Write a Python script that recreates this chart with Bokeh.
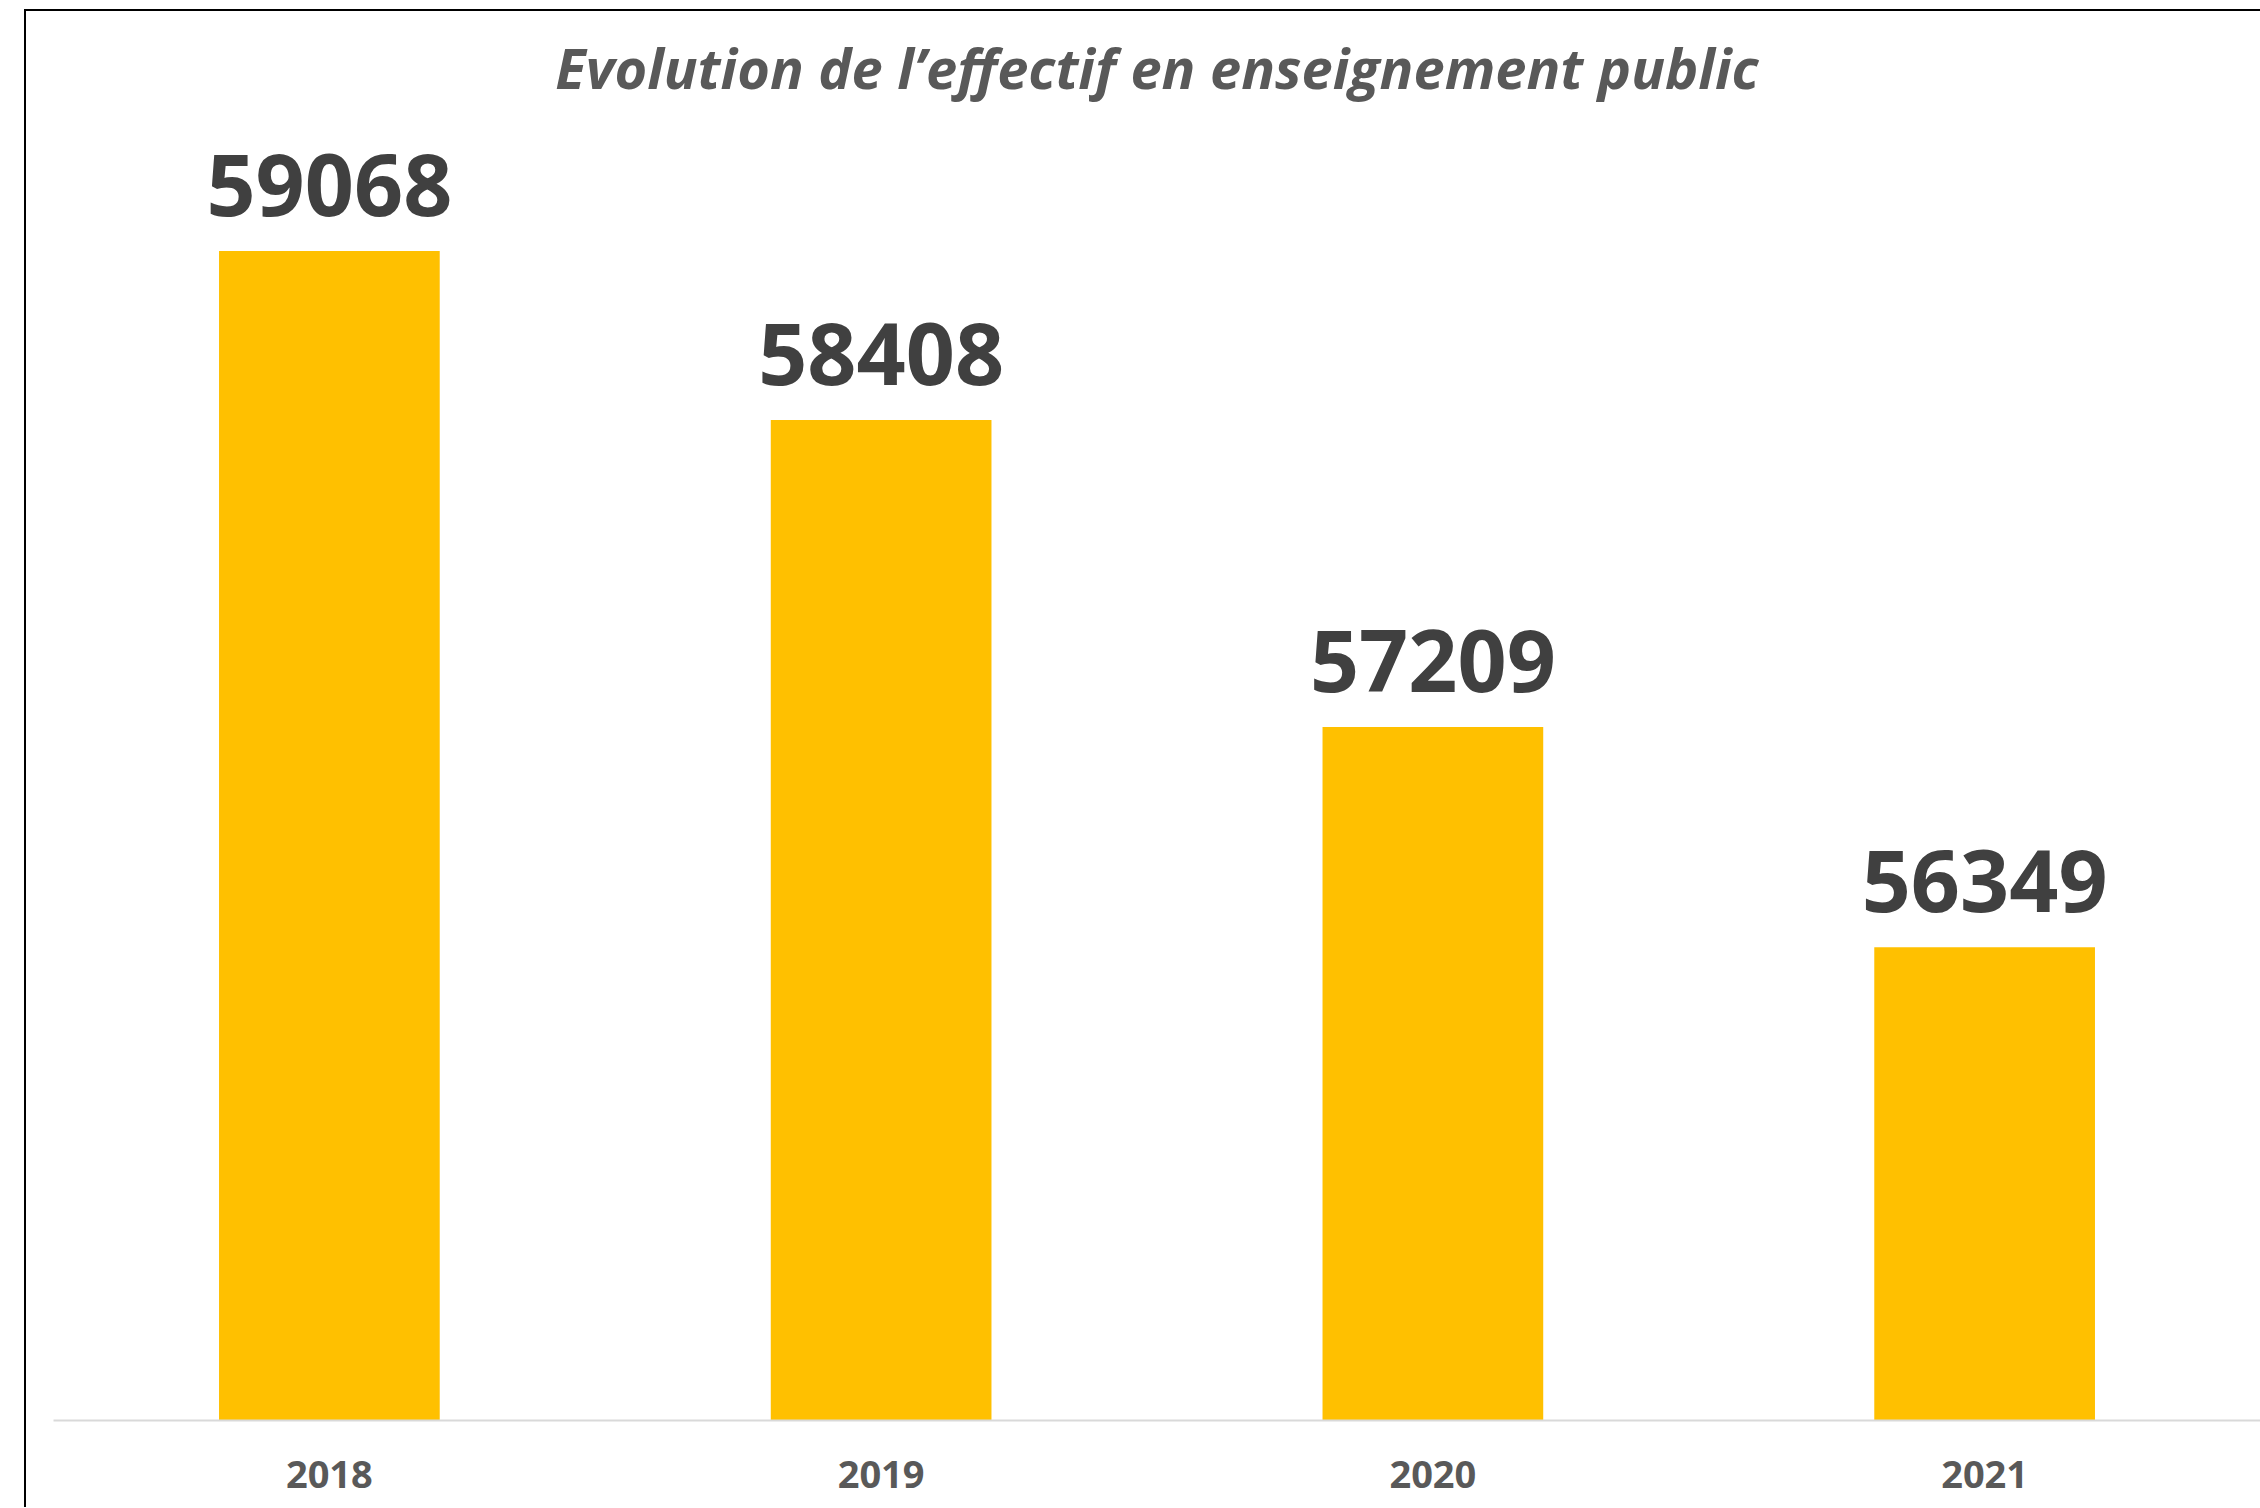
from bokeh.plotting import figure
from bokeh.models import ColumnDataSource, FactorRange, Range1d, LabelSet, Label
from bokeh.core.properties import value
from bokeh.embed import file_html
from bokeh.resources import INLINE

years = ["2018", "2019", "2020", "2021"]
effectif = [59068, 58408, 57209, 56349]
labels = [str(v) for v in effectif]
title_text = "Evolution de l\u2019effectif en enseignement public"
y_min, y_top = 54500, 60004

src = ColumnDataSource(dict(year=years, value=effectif, label=labels))

p = figure(
    x_range=FactorRange(*years, range_padding=0),
    y_range=Range1d(y_min, y_top),
    frame_width=2207, frame_height=1409,
    min_border_left=27, min_border_right=0, min_border_top=0, min_border_bottom=87,
    output_backend="svg", toolbar_location=None,
)
p.margin = (9, 0, 0, 24)
p.styles = {"border-left": "2px solid #000", "border-top": "2px solid #000"}

p.vbar(x="year", top="value", bottom=y_min, width=0.4, source=src,
       fill_color="#FFC000", line_color=None)

p.add_layout(LabelSet(x="year", y="value", text="label", source=src,
                      text_align="center", text_baseline="alphabetic", y_offset=35,
                      text_font=value("Open Sans"), text_font_style="bold",
                      text_font_size="86px", text_color="#404040"))

# chart title, centred over the plot area
p.add_layout(Label(x=len(years) / 2, y=y_top, y_offset=-55, text=title_text,
                   text_align="center", text_baseline="alphabetic",
                   text_font="Open Sans", text_font_style="bold italic",
                   text_font_size="56px", text_color="#595959"))

p.yaxis.visible = False
p.xgrid.grid_line_color = None
p.ygrid.grid_line_color = None
p.outline_line_color = None
p.xaxis.axis_line_color = "#d9d9d9"
p.xaxis.axis_line_width = 2
p.xaxis.major_tick_line_color = None
p.xaxis.minor_tick_line_color = None
p.xaxis.major_label_text_font = "Open Sans"
p.xaxis.major_label_text_font_style = "bold"
p.xaxis.major_label_text_font_size = "38px"
p.xaxis.major_label_text_color = "#595959"
p.xaxis.major_label_standoff = 34

open("out.html", "w").write(file_html(p, INLINE))
